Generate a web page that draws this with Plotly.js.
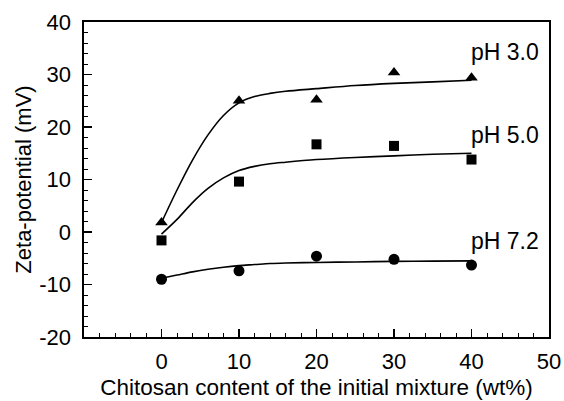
<!DOCTYPE html>
<html>
<head>
<meta charset="utf-8">
<script src="https://cdn.plot.ly/plotly-3.0.1.min.js"></script>
<style>html,body{margin:0;padding:0;background:#fff;}#chart{width:564px;height:401px;}</style>
</head>
<body>
<div id="chart"></div>
<script>
// measured points
const chitosan = [0, 10, 20, 30, 40];
const zetaPH30 = [1.8, 25.0, 25.2, 30.4, 29.4];
const zetaPH50 = [-1.6, 9.6, 16.7, 16.4, 13.8];
const zetaPH72 = [-9.0, -7.4, -4.6, -5.2, -6.3];

// fitted curves
const curveX    = [0, 2, 4, 6, 8, 10, 12, 14, 16, 20, 25, 30, 35, 40];
const curvePH30 = [1.8, 8.0, 13.7, 18.5, 22.2, 24.6, 25.8, 26.4, 26.8, 27.3, 27.9, 28.3, 28.6, 28.9];
const curvePH50 = [-0.4, 2.4, 5.6, 8.3, 10.3, 11.7, 12.5, 13.0, 13.3, 13.8, 14.2, 14.5, 14.8, 15.0];
const curvePH72 = [-8.8, -8.2, -7.6, -7.1, -6.7, -6.4, -6.2, -6.0, -5.9, -5.8, -5.7, -5.6, -5.55, -5.5];

const labelText = ['pH 3.0', 'pH 5.0', 'pH 7.2'];
const labelX = [40, 40, 40];
const labelY = [34.2, 18.5, -1.8];

const xTickVals = [0, 10, 20, 30, 40, 50];
const xTickText = ['0', '10', '20', '30', '40', '50'];
const yTickVals = [-20, -10, 0, 10, 20, 30, 40];
const yTickText = ['-20', '-10', '0', '10', '20', '30', '40'];

const lineStyle = {color: '#000', width: 1.6, shape: 'spline', smoothing: 0.9};
const traces = [
  {x: curveX, y: curvePH30, mode: 'lines', line: lineStyle, hoverinfo: 'skip'},
  {x: curveX, y: curvePH50, mode: 'lines', line: lineStyle, hoverinfo: 'skip'},
  {x: curveX, y: curvePH72, mode: 'lines', line: lineStyle, hoverinfo: 'skip'},
  {x: chitosan, y: zetaPH30, mode: 'markers', marker: {symbol: 'triangle-up', size: 11, color: '#000'}},
  {x: chitosan, y: zetaPH50, mode: 'markers', marker: {symbol: 'square', size: 10, color: '#000'}},
  {x: chitosan, y: zetaPH72, mode: 'markers', marker: {symbol: 'circle', size: 11, color: '#000'}}
];

const fontFam = '"Liberation Sans", Arial, Helvetica, sans-serif';
const annotations = labelText.map((t, i) => ({
  x: labelX[i], y: labelY[i], xref: 'x', yref: 'y', text: t, showarrow: false,
  xanchor: 'left', yanchor: 'middle', xshift: -3, font: {family: fontFam, size: 23, color: '#000'}
}));

const layout = {
  width: 564, height: 401,
  margin: {l: 84, r: 15, t: 22, b: 64, pad: 0},
  paper_bgcolor: '#fff', plot_bgcolor: '#fff',
  showlegend: false,
  font: {family: fontFam, size: 22, color: '#000'},
  xaxis: {
    range: [-10, 50], tickvals: xTickVals, ticktext: xTickText,
    ticks: 'inside', ticklen: 8, tickwidth: 1.5, tickcolor: '#000',
    minor: {dtick: 2, ticks: 'inside', ticklen: 4, tickwidth: 1, tickcolor: '#000', showgrid: false},
    showline: true, linecolor: '#000', linewidth: 1.6, mirror: true,
    showgrid: false, zeroline: false,
    ticklabelstandoff: 4,
    tickfont: {family: fontFam, size: 22, color: '#000'},
    title: {text: 'Chitosan content of the initial mixture (wt%)', font: {family: fontFam, size: 22.5, color: '#000'}, standoff: 6}
  },
  yaxis: {
    range: [-20, 40], tickvals: yTickVals, ticktext: yTickText,
    ticks: 'inside', ticklen: 8, tickwidth: 1.5, tickcolor: '#000',
    minor: {dtick: 2, ticks: 'inside', ticklen: 4, tickwidth: 1, tickcolor: '#000', showgrid: false},
    showline: true, linecolor: '#000', linewidth: 1.6, mirror: true,
    showgrid: false, zeroline: false,
    ticklabelstandoff: 7,
    tickfont: {family: fontFam, size: 22, color: '#000'},
    title: {text: 'Zeta-potential (mV)', font: {family: fontFam, size: 22, color: '#000'}, standoff: 1}
  },
  annotations: annotations
};

Plotly.newPlot('chart', traces, layout, {displayModeBar: false, staticPlot: true});
</script>
</body>
</html>
